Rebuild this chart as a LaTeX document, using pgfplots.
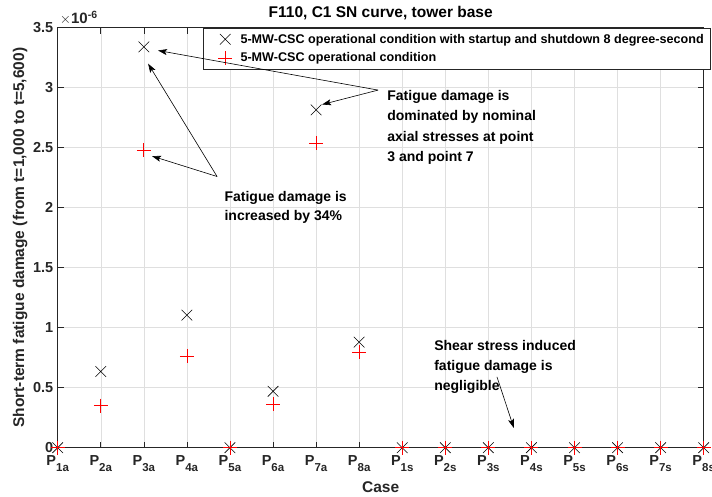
\documentclass[border=0pt]{standalone}
\usepackage{fontspec}
\setmainfont{Liberation Sans}
\usepackage{pgfplots}
\pgfplotsset{compat=1.18}
\usetikzlibrary{arrows.meta}
\definecolor{axgray}{RGB}{38,38,38}
\definecolor{gridgray}{RGB}{223,223,223}
\newcommand{\Pl}[1]{P\raisebox{-6pt}{\fontsize{11.5}{11.5}\selectfont #1}}
\newcommand{\fs}[1]{\fontsize{#1}{#1}\selectfont}

\pgfplotstableread{
x  csc  op
1  0      0
2  0.635  0.35
3  3.34   2.48
4  1.105  0.76
5  0      0
6  0.47   0.36
7  2.815  2.535
8  0.88   0.795
9  0      0
10 0      0
11 0      0
12 0      0
13 0      0
14 0      0
15 0      0
16 0      0
}\damage

\begin{document}
\begin{tikzpicture}[x=1pt,y=1pt]
\useasboundingbox (-57.7,-49.3) rectangle (654.3,447.7);
\begin{axis}[
  at={(0,0)}, anchor=south west,
  scale only axis, width=646pt, height=420pt,
  xmin=1, xmax=16, ymin=0, ymax=3.5,
  xtick={1,...,16},
  xticklabels={\Pl{1a},\Pl{2a},\Pl{3a},\Pl{4a},\Pl{5a},\Pl{6a},\Pl{7a},\Pl{8a},\Pl{1s},\Pl{2s},\Pl{3s},\Pl{4s},\Pl{5s},\Pl{6s},\Pl{7s},\Pl{8s}},
  ytick={0,0.5,1,1.5,2,2.5,3,3.5},
  /pgf/number format/assume math mode=true,
  tick label style={font=\bfseries\fs{14.5}, color=axgray},
  xticklabel style={yshift=-4pt},
  yticklabel style={xshift=-1pt},
  tick align=inside,
  major tick length=6pt,
  tick style={axgray, line width=0.6pt},
  axis line style={axgray, line width=0.6pt},
  grid=major,
  major grid style={gridgray, line width=0.5pt},
  xlabel={Case},
  xlabel style={at={(axis description cs:0.5,-0.095)}, anchor=center, font=\bfseries\fs{15.5}, color=axgray},
  ylabel={Short-term fatigue damage (from t=1,000 to t=5,600)},
  ylabel style={at={(axis description cs:-0.058,0.5)}, anchor=center, font=\bfseries\fs{15.5}, color=axgray},
  legend style={at={(rel axis cs:1.0113,1)}, anchor=north east, font=\bfseries\fs{12.6}, draw=axgray, line width=0.6pt, inner xsep=5pt, inner ysep=4pt, row sep=4pt, cells={anchor=west}},
  legend cell align=left,
]
\addplot[only marks, mark=x, mark size=7.5pt, black, line width=0.6pt, forget plot] table[x=x, y=csc] {\damage};
\addplot[only marks, mark=+, mark size=7pt, red, line width=0.8pt, forget plot] table[x=x, y=op] {\damage};
\addlegendimage{legend image code/.code={\path (0pt,0pt) (30pt,0pt); \draw[black, line width=0.6pt] plot[only marks, mark=x, mark size=7.5pt] coordinates {(17pt,0pt)};}}
\addlegendentry{5-MW-CSC operational condition with startup and shutdown 8 degree-second}
\addlegendimage{legend image code/.code={\path (0pt,0pt) (30pt,0pt); \draw[red, line width=0.8pt] plot[only marks, mark=+, mark size=7pt] coordinates {(17pt,0pt)};}}
\addlegendentry{5-MW-CSC operational condition}
\coordinate (s1) at (axis cs:8.44,2.98);
\coordinate (t1a) at (axis cs:3.33,3.31);
\coordinate (t1b) at (axis cs:7.14,2.86);
\coordinate (n1) at (axis cs:8.65,2.98);
\coordinate (s2) at (axis cs:4.70,2.26);
\coordinate (t2a) at (axis cs:3.10,3.20);
\coordinate (t2b) at (axis cs:3.19,2.43);
\coordinate (n2) at (axis cs:4.87,2.14);
\coordinate (s3) at (axis cs:11.20,0.59);
\coordinate (t3) at (axis cs:11.59,0.165);
\coordinate (n3) at (axis cs:9.74,0.90);
\coordinate (ex) at (axis description cs:0,1);
\coordinate (tt) at (axis description cs:0.5,1);
\end{axis}
\node[anchor=base, inner sep=0pt, font=\bfseries\fs{15.5}] at ([yshift=10pt]tt) {F110, C1 SN curve, tower base};
\node[anchor=base west, inner sep=0pt, font=\bfseries\fs{15}, color=axgray] at ([xshift=2pt,yshift=4pt]ex) {$\times$10\textsuperscript{-6}};
\begin{scope}[line width=0.6pt, -{Stealth[length=9pt,width=6pt,inset=2pt]}]
\draw (s1) -- (t1a);
\draw (s1) -- (t1b);
\draw (s2) -- (t2a);
\draw (s2) -- (t2b);
\draw (s3) -- (t3);
\end{scope}
\node[anchor=north west, inner sep=0pt, align=left, font=\bfseries\fontsize{14}{20.5}\selectfont] at (n1) {Fatigue damage is\\dominated by nominal\\axial stresses at point\\3 and point 7};
\node[anchor=north west, inner sep=0pt, align=left, font=\bfseries\fontsize{14}{19.5}\selectfont] at (n2) {Fatigue damage is\\increased by 34\%};
\node[anchor=north west, inner sep=0pt, align=left, font=\bfseries\fontsize{14}{20}\selectfont] at (n3) {Shear stress induced\\fatigue damage is\\negligible};
\end{tikzpicture}
\end{document}
